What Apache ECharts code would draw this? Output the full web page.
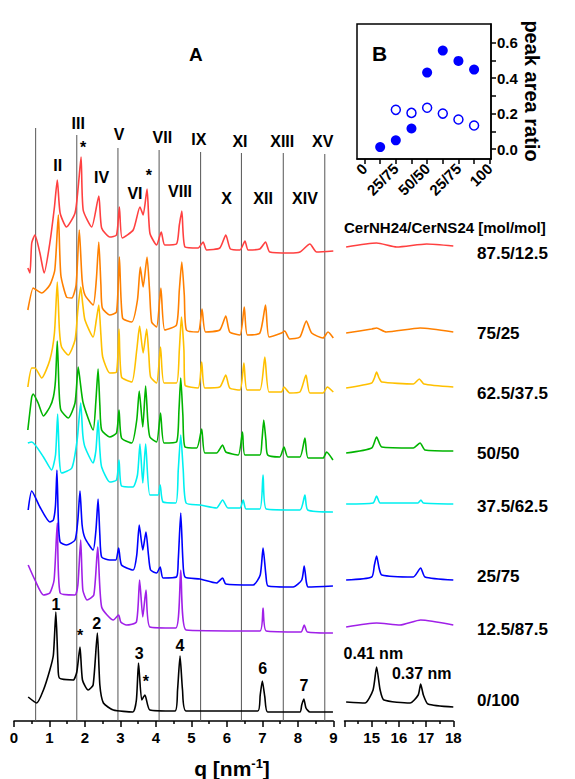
<!DOCTYPE html>
<html>
<head>
<meta charset="utf-8">
<script src="https://cdn.jsdelivr.net/npm/echarts@6/dist/echarts.min.js"></script>
<style>
  html, body { margin: 0; padding: 0; background: #fff; }
  #main { width: 575px; height: 779px; }
</style>
</head>
<body>
<div id="main"></div>
<script>
// ---- data (q in nm^-1, intensity in arbitrary units, curves already stacked) ----
var black0Left = [[0.40,24],[0.64,18],[0.83,31],[1.01,51],[1.11,66],[1.18,109],[1.24,56],[1.28,43],[1.67,41],[1.77,49],[1.86,74],[1.93,41],[2.09,31],[2.23,36],[2.35,88],[2.42,36],[2.52,18],[2.80,11],[3.35,9],[3.45,21],[3.51,58],[3.60,21],[3.69,26],[3.83,11],[4.54,10],[4.61,31],[4.68,65],[4.75,31],[4.85,10],[6.87,10],[6.94,26],[7.00,40],[7.07,24],[7.15,9],[8.06,9],[8.11,16],[8.17,22],[8.23,13],[8.34,9],[8.99,9]];
var black0Right = [[14.06,19],[14.75,18],[15.05,31],[15.18,54],[15.31,31],[15.45,21],[16.41,18],[16.71,26],[16.80,37],[16.90,26],[17.07,17],[18.0,14]];

var purpleLeft = [[0.40,156],[0.59,141],[0.83,126],[1.01,128],[1.13,141],[1.22,198],[1.30,128],[1.72,126],[1.80,136],[1.88,181],[1.94,131],[2.06,121],[2.25,126],[2.36,174],[2.47,114],[2.80,101],[2.95,106],[3.01,99],[3.17,96],[3.45,99],[3.54,141],[3.63,104],[3.72,131],[3.83,94],[4.56,93],[4.70,151],[4.85,91],[6.93,90],[7.02,113],[7.11,90],[8.09,89],[8.18,96],[8.27,89],[8.99,88]];
var purpleRight = [[14.06,94],[15.18,98],[16.04,96],[16.80,101],[18.0,96]];

var blueLeft = [[0.40,211],[0.50,230],[0.73,214],[1.01,199],[1.11,201],[1.17,216],[1.21,251],[1.25,201],[1.30,179],[1.48,176],[1.72,181],[1.80,201],[1.86,230],[1.92,196],[2.00,183],[2.23,171],[2.31,191],[2.37,222],[2.42,186],[2.47,164],[2.70,161],[2.87,161],[2.95,173],[3.03,156],[3.36,151],[3.46,166],[3.53,196],[3.63,171],[3.72,189],[3.79,166],[3.85,151],[4.02,148],[4.12,154],[4.20,143],[4.58,144],[4.63,161],[4.70,208],[4.76,161],[4.82,144],[5.24,142],[5.71,138],[5.88,143],[5.97,137],[6.74,136],[6.94,146],[7.02,173],[7.10,146],[7.16,135],[7.87,134],[8.11,141],[8.18,155],[8.24,139],[8.29,134],[8.99,135]];
var blueRight = [[14.06,141],[15.0,144],[15.10,156],[15.18,165],[15.27,153],[15.37,146],[16.53,144],[16.80,153],[16.96,144],[18.0,141]];

var cyanLeft = [[0.39,278],[0.50,279],[0.83,264],[1.06,251],[1.17,266],[1.23,307],[1.28,261],[1.34,248],[1.63,253],[1.78,281],[1.88,318],[1.94,286],[2.00,274],[2.23,258],[2.31,271],[2.37,301],[2.42,271],[2.47,254],[2.70,239],[2.89,241],[2.96,261],[3.03,235],[3.35,234],[3.48,246],[3.55,277],[3.63,238],[3.71,277],[3.83,226],[4.06,226],[4.12,236],[4.20,219],[4.56,218],[4.63,251],[4.70,286],[4.77,251],[4.85,218],[5.24,216],[5.71,213],[5.88,221],[6.03,213],[6.37,213],[6.46,221],[6.54,212],[6.93,212],[7.02,246],[7.11,212],[8.06,211],[8.20,226],[8.28,211],[8.99,209]];
var cyanRight = [[14.06,217],[15.05,218],[15.18,225],[15.31,218],[16.70,218],[16.81,221],[16.90,218],[18.0,217]];

var greenLeft = [[0.39,291],[0.50,324],[0.54,327],[0.68,318],[0.83,305],[1.01,314],[1.11,324],[1.17,341],[1.22,380],[1.27,331],[1.32,311],[1.53,303],[1.72,318],[1.81,354],[1.86,341],[1.95,318],[2.23,291],[2.31,321],[2.37,352],[2.42,316],[2.47,291],[2.70,284],[2.89,288],[2.96,311],[3.03,283],[3.32,278],[3.46,301],[3.53,330],[3.63,294],[3.71,335],[3.77,301],[3.83,284],[4.02,279],[4.13,308],[4.23,278],[4.58,279],[4.65,311],[4.70,343],[4.76,306],[4.82,274],[5.15,273],[5.29,292],[5.38,268],[5.71,268],[5.88,276],[5.97,269],[6.32,266],[6.44,289],[6.51,266],[6.93,266],[6.99,281],[7.04,301],[7.10,281],[7.15,266],[7.49,264],[7.61,274],[7.72,264],[8.06,264],[8.20,283],[8.29,263],[8.71,263],[8.81,269],[8.99,261]];
var greenRight = [[14.06,268],[15.0,273],[15.18,284],[15.37,274],[16.53,273],[16.78,278],[16.96,271],[18.0,270]];

var yellowLeft = [[0.39,334],[0.50,353],[0.59,353],[0.78,343],[1.01,361],[1.14,388],[1.22,439],[1.28,391],[1.34,374],[1.53,366],[1.72,381],[1.80,411],[1.88,434],[1.94,416],[2.00,401],[2.23,384],[2.32,401],[2.39,416],[2.45,386],[2.50,364],[2.70,348],[2.89,349],[2.96,392],[3.03,344],[3.32,339],[3.46,371],[3.54,395],[3.64,368],[3.74,392],[3.80,366],[3.85,344],[4.02,338],[4.13,374],[4.23,338],[4.58,338],[4.66,371],[4.72,404],[4.79,371],[4.82,336],[5.19,333],[5.29,359],[5.38,333],[5.80,334],[5.97,346],[6.08,333],[6.37,331],[6.48,358],[6.57,331],[6.93,331],[7.07,364],[7.19,329],[7.54,329],[7.61,334],[7.77,328],[8.06,329],[8.23,346],[8.34,328],[8.71,328],[8.83,334],[9.0,329]];
var yellowRight = [[14.06,333],[15.0,338],[15.10,343],[15.18,349],[15.27,343],[15.37,339],[16.53,337],[16.75,342],[16.92,337],[18.0,334]];

var orangeLeft = [[0.39,411],[0.54,433],[0.59,432],[0.78,428],[1.01,436],[1.15,451],[1.25,506],[1.32,446],[1.48,424],[1.63,423],[1.75,436],[1.84,491],[1.92,441],[2.00,426],[2.23,416],[2.32,441],[2.39,479],[2.45,436],[2.49,413],[2.70,406],[2.89,409],[2.97,464],[3.06,403],[3.32,399],[3.48,421],[3.56,454],[3.64,434],[3.75,464],[3.82,431],[3.88,399],[4.02,394],[4.14,433],[4.25,391],[4.58,396],[4.66,431],[4.73,459],[4.80,426],[4.86,391],[5.19,389],[5.30,412],[5.40,389],[5.80,391],[5.97,405],[6.08,389],[6.37,386],[6.49,414],[6.58,386],[6.93,388],[7.09,416],[7.19,384],[7.54,388],[7.63,390],[7.77,382],[8.06,384],[8.24,400],[8.39,388],[8.71,383],[8.85,389],[9.0,383]];
var orangeRight = [[14.06,388],[15.0,392],[15.18,393],[15.53,389],[16.78,393],[18.0,389]];

var redLeft = [[0.39,453],[0.45,448],[0.50,478],[0.59,486],[0.73,468],[0.85,448],[1.01,478],[1.14,514],[1.22,541],[1.30,508],[1.48,494],[1.72,508],[1.81,534],[1.89,564],[1.95,511],[2.19,494],[2.39,525],[2.47,493],[2.70,484],[2.89,486],[2.97,514],[3.05,483],[3.36,491],[3.55,514],[3.64,506],[3.75,532],[3.83,488],[4.02,476],[4.15,489],[4.25,476],[4.58,477],[4.66,496],[4.73,510],[4.82,474],[5.19,473],[5.33,479],[5.43,471],[5.80,473],[5.97,486],[6.10,472],[6.37,471],[6.51,480],[6.60,471],[6.93,472],[7.09,479],[7.21,469],[7.77,468],[8.06,469],[8.34,477],[8.53,469],[9.0,470]];
var redRight = [[14.06,474],[15.18,478],[15.92,474],[17.02,477],[18.0,475]];

var sampleNames = ['0/100', '12.5/87.5', '25/75', '37.5/62.5', '50/50', '62.5/37.5', '75/25', '87.5/12.5'];
var sampleLabelY = [700, 629, 576, 506, 453, 393, 333, 253];

// odd lamellar orders: vertical lines
var oddQ = [0.61, 1.77, 2.93, 4.09, 5.26, 6.41, 7.59, 8.76];
var oddTop = [593, 586, 573, 571, 569, 568, 568, 567];
var oddNames = ['', 'III', 'V', 'VII', 'IX', 'XI', 'XIII', 'XV'];
var oddNameY = [0, 598, 587, 584, 582, 580, 580, 580];
var oddNameQ = [0, 1.81, 2.96, 4.18, 5.21, 6.37, 7.56, 8.70];
// even orders: labels only
var evenNames = ['II', 'IV', 'VI', 'VIII', 'X', 'XII', 'XIV'];
var evenQ = [1.23, 2.47, 3.41, 4.68, 5.99, 7.02, 8.20];
var evenY = [556, 544, 528, 530, 523, 523, 523];
var peakMarks = [['*', 1.95, 574], ['*', 3.80, 546], ['1', 1.18, 117], ['*', 1.86, 86], ['2', 2.33, 98],
                 ['3', 3.53, 68], ['*', 3.72, 40], ['4', 4.68, 76], ['6', 7.01, 53], ['7', 8.17, 36]];
var wideMarks = [['0.41 nm', 15.06, 68], ['0.37 nm', 16.84, 48]];

// inset B
var ratioX = [12.5, 25, 37.5, 50, 62.5, 75, 87.5];
var ratioFilled = [0.011, 0.049, 0.116, 0.431, 0.555, 0.497, 0.448];
var ratioOpen = [null, 0.221, 0.204, 0.233, 0.200, 0.167, 0.133];
var ratioTickLabels = {0: '0', 25: '25/75', 50: '50/50', 75: '25/75', 100: '100'};

var chartDom = document.getElementById('main');
var myChart = echarts.init(chartDom, null, { renderer: 'svg' });

var FONT = 'Liberation Sans, Arial, sans-serif';
var curves = [
    { left: black0Left, right: black0Right, color: '#000000' },
    { left: purpleLeft, right: purpleRight, color: '#a020e8' },
    { left: blueLeft, right: blueRight, color: '#0000ff' },
    { left: cyanLeft, right: cyanRight, color: '#00f0f0' },
    { left: greenLeft, right: greenRight, color: '#00b400' },
    { left: yellowLeft, right: yellowRight, color: '#ffc000' },
    { left: orangeLeft, right: orangeRight, color: '#ff8000' },
    { left: redLeft, right: redRight, color: '#ff4040' }
];

var series = [];

oddQ.forEach(function (q, i) {
    series.push({
        type: 'line', xAxisIndex: 0, yAxisIndex: 0, silent: true, showSymbol: false,
        data: [[q, 0], [q, oddTop[i]]],
        lineStyle: { color: '#555555', width: 1 }, z: 1
    });
});

curves.forEach(function (c) {
    series.push({
        type: 'line', xAxisIndex: 0, yAxisIndex: 0, showSymbol: false, data: c.left,
        smooth: 0.2, lineStyle: { color: c.color, width: 1.6 }, z: 2
    });
    series.push({
        type: 'line', xAxisIndex: 1, yAxisIndex: 1, showSymbol: false, data: c.right,
        smooth: 0.2, lineStyle: { color: c.color, width: 1.6 }, z: 2
    });
});

// text annotations placed in data coordinates
function textSeries(axisIdx, items, size) {
    return {
        type: 'custom', xAxisIndex: axisIdx, yAxisIndex: axisIdx, silent: true, z: 5, clip: false,
        data: items.map(function (m) { return [m[1], m[2], m[0]]; }),
        renderItem: function (params, api) {
            var p = api.coord([api.value(0), api.value(1)]);
            return {
                type: 'text', x: p[0], y: p[1],
                style: {
                    text: items[params.dataIndex][0], fill: '#000', align: 'center', verticalAlign: 'middle',
                    fontSize: size, fontWeight: 'bold', fontFamily: FONT
                }
            };
        }
    };
}

var mainLabels = [];
oddNames.forEach(function (n, i) { if (n) mainLabels.push([n, oddNameQ[i], oddNameY[i]]); });
evenNames.forEach(function (n, i) { mainLabels.push([n, evenQ[i], evenY[i]]); });
series.push(textSeries(0, mainLabels.concat(peakMarks), 16));
series.push(textSeries(1, wideMarks, 16));

// inset B points
series.push({
    type: 'scatter', xAxisIndex: 2, yAxisIndex: 2, symbol: 'circle', symbolSize: 10,
    itemStyle: { color: '#0000ff', opacity: 1 },
    data: ratioX.map(function (x, i) { return [x, ratioFilled[i]]; })
});
series.push({
    type: 'scatter', xAxisIndex: 2, yAxisIndex: 2, symbol: 'circle', symbolSize: 9,
    itemStyle: { color: '#ffffff', borderColor: '#0000ff', borderWidth: 1.5, opacity: 1 },
    data: ratioX.map(function (x, i) { return ratioOpen[i] === null ? null : [x, ratioOpen[i]]; }).filter(Boolean)
});

var axisLabelStyle = { color: '#000', fontSize: 15, fontWeight: 'bold', fontFamily: FONT };

option = {
    animation: false,
    backgroundColor: '#ffffff',
    grid: [
        { left: 14, top: 121, width: 319.3, height: 600 },
        { left: 344.5, top: 121, width: 108.8, height: 600 },
        { left: 357, top: 24, width: 134, height: 135, show: true, borderColor: '#000', borderWidth: 1.5, backgroundColor: 'transparent' }
    ],
    xAxis: [
        {
            gridIndex: 0, type: 'value', min: 0, max: 9, interval: 1,
            axisLine: { onZero: false, lineStyle: { color: '#000', width: 1.5 } },
            axisTick: { length: 6, lineStyle: { color: '#000', width: 1.5 } },
            minorTick: { show: true, splitNumber: 2, length: 3, lineStyle: { color: '#000', width: 1.5 } },
            axisLabel: Object.assign({ margin: 9 }, axisLabelStyle),
            splitLine: { show: false }
        },
        {
            gridIndex: 1, type: 'value', min: 14, max: 18, interval: 1,
            axisLine: { onZero: false, lineStyle: { color: '#000', width: 1.5 } },
            axisTick: { length: 6, lineStyle: { color: '#000', width: 1.5 } },
            minorTick: { show: true, splitNumber: 2, length: 3, lineStyle: { color: '#000', width: 1.5 } },
            axisLabel: Object.assign({ margin: 9, formatter: function (v) { return v === 14 ? '' : v; } }, axisLabelStyle),
            splitLine: { show: false }
        },
        {
            gridIndex: 2, type: 'value', min: -6, max: 101,
            axisLine: { onZero: false, lineStyle: { color: '#000', width: 1.5 } },
            axisTick: { length: 5, lineStyle: { color: '#000', width: 1.5 }, customValues: [0, 12.5, 25, 37.5, 50, 62.5, 75, 87.5, 100] },
            axisLabel: Object.assign({
                rotate: 45, margin: 7, customValues: [0, 25, 50, 75, 100],
                formatter: function (v) { return ratioTickLabels[v]; }
            }, axisLabelStyle),
            splitLine: { show: false }
        }
    ],
    yAxis: [
        { gridIndex: 0, type: 'value', min: 0, max: 600, show: false },
        { gridIndex: 1, type: 'value', min: 0, max: 600, show: false },
        {
            gridIndex: 2, type: 'value', min: -0.056, max: 0.705, position: 'right',
            axisLine: { show: true, onZero: false, lineStyle: { color: '#000', width: 1.5 } },
            axisTick: { show: true, length: 5, lineStyle: { color: '#000', width: 1.5 }, customValues: [0, 0.1, 0.2, 0.3, 0.4, 0.5, 0.6] },
            axisLabel: Object.assign({
                margin: 6, customValues: [0, 0.2, 0.4, 0.6],
                formatter: function (v) { return v.toFixed(1); }
            }, axisLabelStyle),
            splitLine: { show: false }
        }
    ],
    graphic: [
        { type: 'text', left: 189, top: 45, style: { text: 'A', fontSize: 19, fontWeight: 'bold', fontFamily: FONT, fill: '#000' } },
        { type: 'text', left: 372, top: 43, style: { text: 'B', fontSize: 21, fontWeight: 'bold', fontFamily: FONT, fill: '#000' } },
        {
            type: 'text', x: 532, y: 91, rotation: -Math.PI / 2,
            style: { text: 'peak area ratio', fontSize: 20, fontWeight: 'bold', fontFamily: FONT, fill: '#000', align: 'center', verticalAlign: 'middle' }
        },
        { type: 'text', x: 344, y: 227, style: { text: 'CerNH24/CerNS24 [mol/mol]', fontSize: 15, fontWeight: 'bold', fontFamily: FONT, fill: '#000', verticalAlign: 'middle' } },
        {
            type: 'text', x: 232, y: 768,
            style: {
                text: '{a|q [nm}{b|-1}{a|]}', align: 'center', verticalAlign: 'middle',
                rich: {
                    a: { fontSize: 21, fontWeight: 'bold', fontFamily: FONT, fill: '#000', verticalAlign: 'bottom' },
                    b: { fontSize: 13, fontWeight: 'bold', fontFamily: FONT, fill: '#000', verticalAlign: 'bottom', padding: [0, 0, 9, 0] }
                }
            }
        }
    ].concat(sampleNames.map(function (n, i) {
        return { type: 'text', x: 477, y: sampleLabelY[i], style: { text: n, fontSize: 17, fontWeight: 'bold', fontFamily: FONT, fill: '#000', verticalAlign: 'middle' } };
    })),
    series: series
};

option && myChart.setOption(option);
</script>
</body>
</html>
